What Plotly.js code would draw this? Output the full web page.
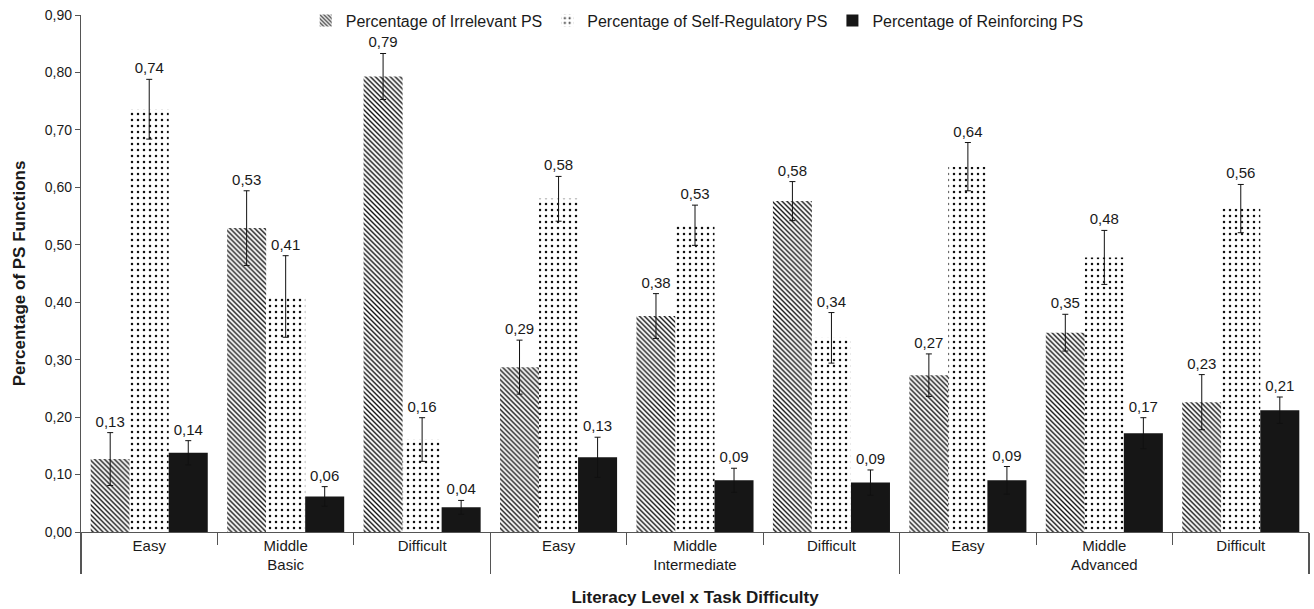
<!DOCTYPE html>
<html>
<head>
<meta charset="utf-8">
<script src="https://cdn.plot.ly/plotly-3.0.1.min.js"></script>
<style>html,body{margin:0;padding:0;background:#fff;}#chart{width:1314px;height:609px;}</style>
</head>
<body>
<div id="chart"></div>
<script>
// Literacy level (outer) x task difficulty (inner)
const literacyLevels = ['Basic', 'Intermediate', 'Advanced'];
const taskDifficulties = ['Easy', 'Middle', 'Difficult'];

const seriesNames = [
  'Percentage of Irrelevant PS',
  'Percentage of Self-Regulatory PS',
  'Percentage of Reinforcing PS'
];

// values in order Basic(E,M,D), Intermediate(E,M,D), Advanced(E,M,D)
const irrelevant      = [0.127, 0.529, 0.793, 0.287, 0.376, 0.576, 0.273, 0.347, 0.226];
const irrelevantErr   = [0.046, 0.065, 0.040, 0.047, 0.039, 0.034, 0.037, 0.032, 0.048];
const selfRegulatory  = [0.736, 0.410, 0.161, 0.580, 0.534, 0.338, 0.636, 0.478, 0.563];
const selfRegErr      = [0.052, 0.071, 0.038, 0.039, 0.035, 0.044, 0.042, 0.047, 0.042];
const reinforcing     = [0.138, 0.062, 0.043, 0.130, 0.090, 0.086, 0.090, 0.172, 0.212];
const reinforcingErr  = [0.021, 0.017, 0.012, 0.035, 0.021, 0.022, 0.024, 0.027, 0.023];

const outerX = [], innerX = [];
literacyLevels.forEach(l => taskDifficulties.forEach(d => { outerX.push(l); innerX.push(d); }));
const xCats = [outerX, innerX];

const TXT = '#1a1a1a';
const AX = '#555555';
const fmt = v => v.toFixed(2).replace('.', ',');

const styles = [
  {color: '#ffffff', pattern: {shape: '\\', fgcolor: '#111111', bgcolor: '#ffffff', size: 3.5, solidity: 0.4}},
  {color: '#ffffff', pattern: {shape: '.', fgcolor: '#111111', bgcolor: '#ffffff', size: 6, solidity: 0.14}},
  {color: '#161616', pattern: {shape: ''}}
];
const vals = [irrelevant, selfRegulatory, reinforcing];
const errs = [irrelevantErr, selfRegErr, reinforcingErr];

const traces = [];
vals.forEach((v, i) => {
  traces.push({
    type: 'bar', name: seriesNames[i], x: xCats, y: v,
    offsetgroup: 'g' + i,
    marker: {color: styles[i].color, pattern: styles[i].pattern, line: {width: 0}},
    error_y: {type: 'data', array: errs[i], visible: true, color: '#111111', thickness: 1, width: 3},
    hoverinfo: 'skip'
  });
});
// transparent bars reaching the top of each error bar, carrying the value labels
vals.forEach((v, i) => {
  traces.push({
    type: 'bar', x: xCats, y: v.map((y, k) => y + errs[i][k]),
    offsetgroup: 'g' + i, showlegend: false, hoverinfo: 'skip',
    marker: {color: 'rgba(0,0,0,0)', line: {width: 0}},
    text: v.map(fmt), textposition: 'outside', cliponaxis: false,
    textfont: {family: 'Liberation Sans, Arial, sans-serif', size: 15, color: TXT}
  });
});

const layout = {
  width: 1314, height: 609,
  margin: {l: 81, r: 5, t: 14, b: 77},
  paper_bgcolor: '#ffffff', plot_bgcolor: '#ffffff',
  separators: ',.',
  font: {family: 'Liberation Sans, Arial, sans-serif', size: 15, color: TXT},
  barmode: 'group', bargap: 0.142, bargroupgap: 0,
  showlegend: true,
  legend: {orientation: 'h', x: 0.183, xanchor: 'left', y: 1.02, yanchor: 'top',
           font: {size: 16, color: TXT}, bgcolor: 'rgba(0,0,0,0)', traceorder: 'normal'},
  xaxis: {
    type: 'multicategory',
    showline: true, linecolor: AX, linewidth: 1.2,
    ticks: 'outside', ticklen: 12, tickcolor: AX, tickwidth: 1.2, tickson: 'boundaries',
    showdividers: true, dividercolor: AX, dividerwidth: 1.2,
    tickfont: {size: 15, color: TXT},
    showgrid: false, zeroline: false,
    title: {text: '<b>Literacy Level x Task Difficulty</b>', font: {size: 17, color: TXT}, standoff: 18}
  },
  yaxis: {
    range: [0, 0.9], dtick: 0.1, tickformat: '.2f',
    showline: true, linecolor: AX, linewidth: 1.2,
    ticks: 'outside', ticklen: 5, tickcolor: AX,
    showgrid: false, zeroline: false,
    tickfont: {size: 14, color: TXT},
    title: {text: '<b>Percentage of PS Functions</b>', font: {size: 17, color: TXT}, standoff: 14}
  }
};

Plotly.newPlot('chart', traces, layout, {staticPlot: true, displayModeBar: false});
</script>
</body>
</html>
